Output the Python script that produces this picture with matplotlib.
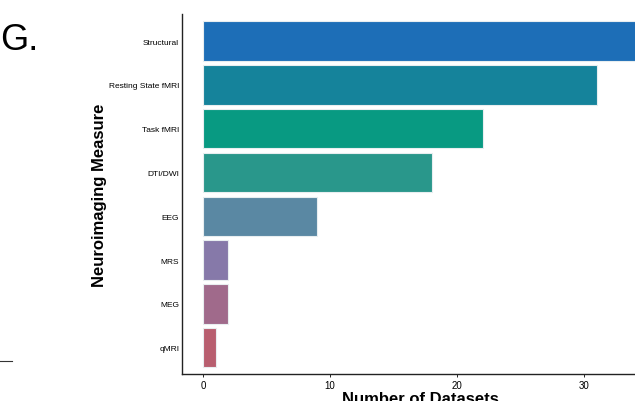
import matplotlib.pyplot as plt

plt.rcParams['font.family'] = ['Liberation Sans', 'DejaVu Sans']

# Datos
measures = ['Structural', 'Resting State fMRI', 'Task fMRI', 'DTI/DWI',
            'EEG', 'MRS', 'MEG', 'qMRI']
counts = [35, 31, 22, 18, 9, 2, 2, 1]
colors = ['#1d6eb7', '#15839b', '#089a82', '#29978b',
          '#5a88a3', '#8679a9', '#a06a8b', '#b85e6f']

fig = plt.figure(figsize=(6.35, 4.02), dpi=100)
ax = fig.add_axes([0.2866, 0.0672, 0.75, 0.8955])

ypos = list(range(len(measures)))
ax.barh(ypos, counts, height=0.9, color=colors, edgecolor='#e8eef0', linewidth=0.8)

ax.set_yticks(ypos)
ax.set_yticklabels(measures, fontsize=6)
ax.set_ylim(len(measures) - 0.4, -0.62)
ax.set_xlim(-1.65, 35.8)
ax.set_xticks([0, 10, 20, 30])
ax.tick_params(axis='x', labelsize=7, length=2, width=0.6, pad=2)
ax.tick_params(axis='y', length=0, pad=2)

for s in ['top', 'right']:
    ax.spines[s].set_visible(False)
for s in ['left', 'bottom']:
    ax.spines[s].set_linewidth(1.0)
    ax.spines[s].set_color('#222222')

ax.set_ylabel('Neuroimaging Measure', fontsize=12, fontweight='bold', labelpad=1)
ax.set_xlabel('Number of Datasets', fontsize=12, fontweight='bold', labelpad=1)

# Letra del panel y linea suelta
fig.text(0.0, 0.9, 'G.', fontsize=26, va='center', ha='left')
fig.add_artist(plt.Line2D([0, 0.019], [0.0995, 0.0995], color='#333333', linewidth=0.8))

fig.savefig('out.png', dpi=100)
